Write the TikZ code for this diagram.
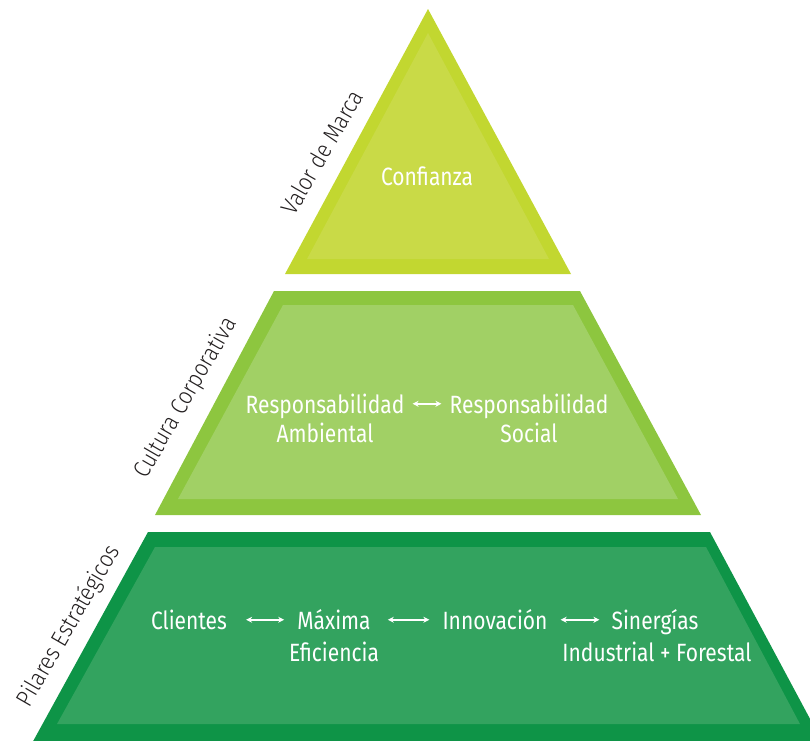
\documentclass[tikz,border=0pt]{standalone}
\usepackage{fontspec}
\setmainfont{Fira Sans}
\newfontfamily\wfont{Fira Sans}[FakeStretch=0.84]
\newfontfamily\lfont{Fira Sans}[UprightFont=* Light, FakeStretch=0.88]
\usetikzlibrary{arrows.meta}
\definecolor{topOut}{HTML}{C2D730}
\definecolor{topIn}{HTML}{C9DA47}
\definecolor{midOut}{HTML}{8DC63F}
\definecolor{midIn}{HTML}{A1D065}
\definecolor{botOut}{HTML}{0E9447}
\definecolor{botIn}{HTML}{33A35F}
\definecolor{labgray}{HTML}{231F20}
\begin{document}
\begin{tikzpicture}[x=1pt,y=-1pt,
  wtxt/.style={text=white, font=\wfont\fontsize{25}{30}\selectfont, inner sep=0pt, text height=18.5pt, text depth=0pt, anchor=base},
  ltxt/.style={text=labgray, font=\lfont\fontsize{24}{28}\selectfont, rotate=60, inner sep=0pt},
  arr/.style={white, line width=1.5pt, {Stealth[length=6pt,width=6pt]}-{Stealth[length=6pt,width=6pt]}}]
\useasboundingbox (0,0) rectangle (810,740);
\clip (0,0) rectangle (810,740);
% top triangle
\fill[topOut] (428,9) -- (571,274) -- (285,274) -- cycle;
\fill[topIn] (428,33) -- (549,259) -- (307,259) -- cycle;
% middle trapezoid
\fill[midOut] (274,291) -- (580,291) -- (701,515) -- (155,515) -- cycle;
\fill[midIn] (283,305) -- (573,305) -- (678,499) -- (178,499) -- cycle;
% bottom trapezoid
\fill[botOut] (148,532) -- (710,532) -- (824,745) -- (31,745) -- cycle;
\fill[botIn] (155,547) -- (706,547) -- (800,724) -- (57,724) -- cycle;
% texts
\node[wtxt] (conf) at (427,185) {Confianza};
\node[wtxt] (ra1) at (325,413) {Responsabilidad};
\node[wtxt] (ra2) at (325,442) {Ambiental};
\node[wtxt] (rs1) at (529,413) {Responsabilidad};
\node[wtxt] (rs2) at (529,442) {Social};
\node[wtxt] (cli) at (189,629) {Clientes};
\node[wtxt] (max1) at (334,629) {Máxima};
\node[wtxt] (max2) at (334,661) {Eficiencia};
\node[wtxt] (inn) at (495,629) {Innovación};
\node[wtxt] (sin1) at (655,629) {Sinergías};
\node[wtxt] (sin2) at (657,661) {Industrial + Forestal};
% arrows
\draw[arr, shorten <=8pt, shorten >=8pt] (ra1.east) -- (rs1.west);
\draw[arr, shorten <=19pt, shorten >=13pt] (cli.east) -- (max1.west);
\draw[arr, shorten <=17pt, shorten >=13pt] (max1.east) -- (inn.west);
\draw[arr, shorten <=13pt, shorten >=12pt] (inn.east) -- (sin1.west);
% side labels
\node[ltxt] (vm) at (322,152) {Valor de Marca};
\node[ltxt] (cc) at (186,398) {Cultura Corporativa};
\node[ltxt] (pe) at (69,626) {Pilares Estratégicos};
\end{tikzpicture}
\end{document}
